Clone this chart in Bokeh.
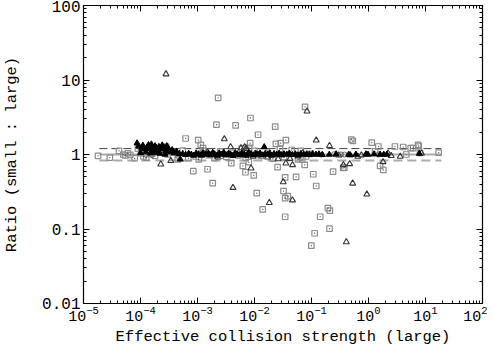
from bokeh.plotting import figure
from bokeh.models import LogAxis, CustomJSTickFormatter, FixedTicker
from bokeh.embed import file_html
from bokeh.resources import INLINE

# ---- data ----
sq_x = [2.30e-3, 0.0769, 8.49e-3, 2.15e-3, 4.66e-3, 0.0231, 0.01156, 6.19e-4, 1.03e-3, 0.0355,
        0.499, 1.14, 8.38e-3, 7.41, 1.49, 2.91, 4.06, 6.07, 0.0237, 0.0288,
        1.14e-3, 1.25e-3,
        8.43e-4, 1.50e-3, 1.85e-3, 3.92e-3, 6.25e-3, 6.95e-3, 9.7e-3, 7.94e-3, 0.01094, 0.01393,
        0.0254, 0.0345, 0.0323, 0.0345, 0.0384, 0.0345, 0.0537, 0.076, 0.1074, 0.121,
        0.142, 0.1135, 0.0993, 0.194, 0.2095, 0.207, 0.239, 0.377, 1.60, 1.82,
        1.8e-5, 2.9e-5, 4.2e-5, 5.0e-5, 5.4e-5, 6.0e-5, 6.6e-5, 7.9e-5, 9.0e-5, 1.02e-4,
        1.13e-4, 1.26e-4, 1.5e-4, 1.8e-4, 2.8e-4, 3.0e-4, 3.7e-4, 4.5e-4, 5.5e-4, 6.9e-4,
        9.3e-4, 1.05e-3, 1.3e-3, 1.6e-3, 2.0e-3, 2.5e-3, 3.2e-3, 4.0e-3, 5.2e-3, 6.0e-3,
        7.0e-3, 8.0e-3, 1.0e-2, 1.3e-2, 1.7e-2, 2.1e-2, 2.8e-2, 3.3e-2, 4.5e-2, 5.8e-2,
        6.5e-2, 8.0e-2, 9.5e-2, 0.53, 1.3, 4.6, 5.5, 7.6, 8.0, 17.0, 0.069, 0.36]
sq_y = [5.76, 4.35, 3.09, 2.51, 2.46, 2.36, 1.84, 1.64, 1.56, 1.56,
        1.59, 1.44, 1.42, 1.35, 1.28, 1.28, 1.26, 1.22, 1.39, 1.42,
        1.35, 1.22,
        0.60, 0.634, 0.414, 0.764, 0.703, 0.578, 0.526, 0.788, 0.304, 0.183,
        0.675, 0.494, 0.323, 0.260, 0.277, 0.146, 0.50, 0.726, 0.543, 0.378,
        0.146, 0.0877, 0.0597, 0.191, 0.177, 0.101, 0.59, 0.668, 0.703, 0.621,
        0.96, 0.91, 1.12, 1.00, 0.97, 1.04, 0.99, 0.89, 1.20, 1.04,
        0.94, 0.91, 1.02, 0.96, 1.28, 1.00, 1.06, 0.86, 1.13, 0.89,
        0.94, 0.86, 1.12, 0.98, 0.89, 1.10, 0.93, 1.05, 0.97, 1.20,
        0.90, 1.23, 1.12, 0.96, 1.05, 0.88, 1.18, 0.92, 1.15, 0.86,
        1.12, 0.94, 1.02, 1.52, 1.10, 1.00, 1.22, 1.30, 1.05, 1.06, 0.85, 0.66]

tri_x = [2.8e-4, 0.0834, 2.96e-3, 3.81e-3, 0.121, 0.207, 0.362, 0.467, 0.527, 0.935,
         4.19e-3, 0.0182, 0.0463, 0.0319, 0.0355, 0.0465, 0.408, 2.27e-4, 3.4e-4, 1.80,
         8.7e-3, 1.2e-3, 1.5e-3, 2.3e-3, 5.8e-3, 6.7e-3, 7.2e-3, 9.5e-3, 1.7e-2, 2.6e-2,
         4.2e-2, 5.8e-2, 7.0e-2, 0.65, 0.75, 2.2, 2.5, 3.6, 8.5, 0.3]
tri_y = [12.0, 3.80, 1.61, 1.26, 1.55, 1.31, 0.725, 0.748, 0.41, 0.292,
         0.359, 0.225, 0.244, 0.428, 0.764, 0.725, 0.067, 0.741, 0.822, 0.796,
         0.654, 0.97, 1.08, 0.92, 1.22, 1.26, 1.20, 0.94, 0.92, 0.87,
         0.88, 0.95, 1.05, 0.94, 0.98, 1.04, 0.96, 0.94, 1.04, 0.98]

ftri_x = [8.7e-5, 9.3e-5, 1.05e-4, 1.1e-4, 1.2e-4, 1.3e-4, 1.38e-4, 1.45e-4, 1.55e-4, 1.6e-4,
          1.7e-4, 1.8e-4, 1.9e-4, 2.0e-4, 2.1e-4, 2.25e-4, 2.4e-4, 2.6e-4, 2.75e-4, 2.9e-4,
          3.1e-4, 3.3e-4, 3.6e-4, 3.9e-4, 4.3e-4, 4.8e-4, 5.0e-4, 1.0e-4, 1.25e-4, 1.5e-4,
          1.75e-4, 2.2e-4, 2.7e-4,
          5.5e-4, 6.2e-4, 7.0e-4, 7.8e-4, 8.6e-4, 9.5e-4, 1.05e-3, 1.15e-3, 1.25e-3, 1.4e-3,
          1.55e-3, 1.7e-3, 1.85e-3, 2.0e-3, 2.2e-3, 2.4e-3, 2.65e-3, 2.9e-3, 3.2e-3, 3.5e-3,
          3.8e-3, 4.2e-3, 4.6e-3, 5.0e-3, 5.5e-3, 6.0e-3, 6.6e-3, 7.2e-3, 7.9e-3, 8.7e-3,
          9.5e-3, 1.05e-2, 1.15e-2, 1.25e-2, 1.4e-2, 1.48e-2, 1.55e-2, 1.7e-2, 1.85e-2, 2.0e-2,
          2.2e-2, 2.45e-2, 2.7e-2, 3.0e-2, 3.3e-2, 3.7e-2, 4.1e-2, 4.6e-2, 5.2e-2, 5.8e-2,
          6.5e-2, 7.3e-2, 8.2e-2, 9.2e-2, 0.105, 0.12, 0.135, 0.155, 0.205, 0.27,
          0.45, 0.48, 0.6, 0.9, 0.98, 1.25, 1.6, 1.85, 2.1, 7.8]
ftri_y = [1.42, 1.30, 1.22, 1.32, 1.18, 1.25, 1.34, 1.20, 1.37, 1.28,
          1.15, 1.30, 1.22, 1.10, 1.27, 1.18, 1.33, 1.24, 1.12, 1.30,
          1.20, 1.08, 1.15, 1.05, 1.10, 1.02, 0.86, 1.05, 1.08, 1.04,
          1.06, 1.03, 1.00,
          1.02, 0.99, 1.03, 1.00, 0.97, 1.04, 1.01, 0.98, 1.05, 1.00,
          1.03, 0.98, 1.06, 1.01, 0.97, 1.04, 1.00, 1.06, 0.98, 1.03,
          1.00, 0.96, 1.05, 1.01, 0.98, 1.04, 1.00, 0.97, 1.05, 1.01,
          0.98, 1.03, 1.00, 1.04, 0.98, 1.26, 1.02, 1.00, 1.04, 0.97,
          1.02, 1.00, 1.03, 0.98, 1.01, 1.00, 1.03, 0.99, 1.01, 0.98,
          1.02, 1.00, 1.01, 0.99, 1.02, 1.00, 1.01, 0.99, 1.00, 1.01,
          1.00, 0.98, 1.00, 1.01, 1.00, 1.01, 1.00, 1.00, 1.00, 1.03]

circ_x = [0.33, 0.38, 0.25, 0.15, 1.2e-3, 2.6e-3, 4.4e-3, 7.5e-3, 1.2e-2, 2.8e-2,
          6.0e-2, 9.0e-2, 1.25e-4, 1.6e-4, 4.5e-4, 1.5]
circ_y = [1.00, 1.00, 1.01, 1.00, 0.97, 0.95, 1.00, 1.02, 0.98, 1.00,
          0.97, 1.02, 0.99, 0.98, 0.96, 1.00]

ref_x = [1.9e-5, 19.0]
upper_y = [1.2, 1.2]
unity_y = [1.0, 1.0]
lower_y = [0.83, 0.83]

ticks_y = [0.01, 0.1, 1, 10, 100]
ticks_x = [1e-5, 1e-4, 1e-3, 1e-2, 1e-1, 1e0, 1e1, 1e2]

FONT = "Liberation Mono"
minor_y = [m * 10.0 ** e for e in (-2, -1, 0, 1) for m in range(2, 10)]
minor_x = [m * 10.0 ** e for e in range(-5, 2) for m in range(2, 10)]

p = figure(width=487, height=348, x_axis_type="log", y_axis_type="log",
           x_range=(1e-5, 1e2), y_range=(0.01, 100),
           output_backend="svg", toolbar_location=None,
           min_border_left=79, min_border_right=5, min_border_top=5, min_border_bottom=40)
p.grid.visible = False
p.outline_line_color = "black"
p.outline_line_width = 1.2
p.background_fill_color = "white"
p.border_fill_color = "white"

# reference lines
p.line(ref_x, unity_y, line_color="#aaaaaa", line_width=2)
p.line(ref_x, lower_y, line_color="#aaaaaa", line_width=2, line_dash="9 5")
p.line(ref_x, upper_y, line_color="#444444", line_width=1, line_dash="8 4")

# markers
p.scatter(sq_x, sq_y, marker="square", size=5.5, fill_color=None, line_color="#8c8c8c", line_width=1.2)
p.scatter(sq_x, sq_y, marker="dot", size=5, line_color="#444444", fill_color="#444444")
p.scatter(tri_x, tri_y, marker="triangle", size=6, fill_color=None, line_color="#333333", line_width=1.1)
p.scatter(circ_x, circ_y, marker="circle", size=5, fill_color=None, line_color="#666666", line_width=1)
p.scatter(ftri_x, ftri_y, marker="triangle", size=6, fill_color="black", line_color="black")

for ax in (p.xaxis[0], p.yaxis[0]):
    ax.major_tick_in = 6
    ax.major_tick_out = 0
    ax.minor_tick_in = 3
    ax.minor_tick_out = 0
    ax.axis_line_color = "black"
    ax.major_label_text_font = FONT
    ax.major_label_text_color = "black"
    ax.axis_label_text_font = FONT
    ax.axis_label_text_font_size = "15.5px"
    ax.axis_label_text_font_style = "normal"
    ax.axis_label_text_color = "black"

p.xaxis[0].major_label_text_font_size = "15px"
p.yaxis[0].major_label_text_font_size = "16px"
p.yaxis[0].ticker = FixedTicker(ticks=ticks_y, minor_ticks=minor_y)
p.xaxis[0].ticker = FixedTicker(ticks=ticks_x, minor_ticks=minor_x)
p.yaxis[0].formatter = CustomJSTickFormatter(code="return tick.toString();")
p.xaxis[0].axis_label = "Effective collision strength (large)"
p.yaxis[0].axis_label = "Ratio (small : large)"
p.xaxis[0].axis_label_standoff = 4
p.yaxis[0].axis_label_standoff = 18
p.xaxis[0].major_label_standoff = 2
p.yaxis[0].major_label_standoff = 3

# mirrored axes (ticks only)
for loc in ("right", "above"):
    ax = LogAxis()
    ax.major_tick_in = 6
    ax.major_tick_out = 0
    ax.minor_tick_in = 3
    ax.minor_tick_out = 0
    ax.axis_line_color = "black"
    ax.major_label_text_font_size = "1px"
    ax.major_label_text_alpha = 0
    ax.major_label_standoff = 0
    if loc == "right":
        ax.ticker = FixedTicker(ticks=ticks_y, minor_ticks=minor_y)
    else:
        ax.ticker = FixedTicker(ticks=ticks_x, minor_ticks=minor_x)
    p.add_layout(ax, loc)

open("out.html", "w").write(file_html(p, INLINE))
